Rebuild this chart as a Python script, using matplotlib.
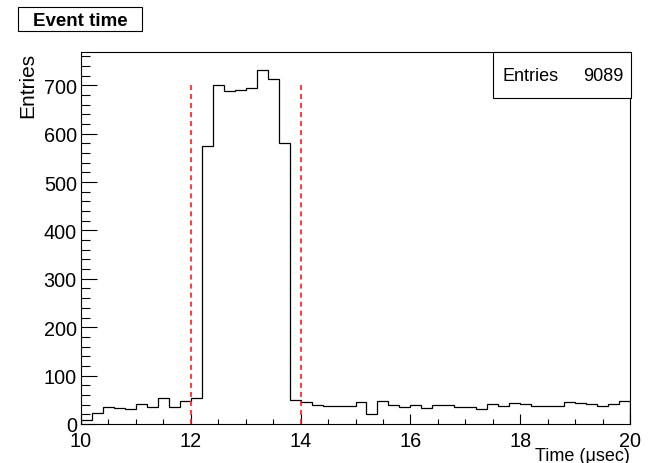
# event time histogram with the timing window marked
import numpy as np
import matplotlib
matplotlib.use('Agg')
import matplotlib.pyplot as plt
from matplotlib.patches import Rectangle
from matplotlib.ticker import MultipleLocator

plt.rcParams['font.family'] = ['Liberation Sans', 'DejaVu Sans']
plt.rcParams['lines.scale_dashes'] = False

# histogram: 50 bins between 10 and 20 usec
t_lo, t_hi, n_bins = 10.0, 20.0, 50
counts = [8, 22, 36, 34, 30, 41, 35, 53, 35, 47,
          54, 575, 700, 688, 690, 695, 732, 712, 580, 50,
          45, 40, 37, 37, 37, 45, 21, 47, 40, 35,
          39, 33, 39, 40, 35, 35, 30, 41, 37, 43,
          41, 38, 37, 38, 45, 43, 41, 37, 41, 47]
n_entries = 9089

# cut window
cut_times = [12.0, 14.0]
cut_height = 700

W, H = 656, 464
fig = plt.figure(figsize=(W / 100, H / 100), dpi=100)

def fx(px):
    return px / W

def fy(py):
    return 1 - py / H

ax = fig.add_axes([fx(81), fy(425), fx(630) - fx(81), fy(53) - fy(425)])

edges = np.linspace(t_lo, t_hi, n_bins + 1)
ax.stairs(counts, edges, color='black', linewidth=0.9)

for t in cut_times:
    ax.plot([t, t], [0, cut_height], color='#ff1a1a', linewidth=1.2,
            dashes=(3.6, 2.9), zorder=3)

ax.set_xlim(t_lo, t_hi)
ax.set_ylim(0, 1.05 * max(counts))

ax.xaxis.set_major_locator(MultipleLocator(2))
ax.xaxis.set_minor_locator(MultipleLocator(0.5))
ax.yaxis.set_major_locator(MultipleLocator(100))
ax.yaxis.set_minor_locator(MultipleLocator(20))

ax.tick_params(axis='x', which='major', direction='in', length=7.2, width=0.8,
               labelsize=14.3, pad=5)
ax.tick_params(axis='x', which='minor', direction='in', length=3.6, width=0.8)
ax.tick_params(axis='y', which='major', direction='in', length=11.5, width=0.8,
               labelsize=14.3, pad=3)
ax.tick_params(axis='y', which='minor', direction='in', length=6.5, width=0.8)
ax.tick_params(top=False, right=False, which='both')

for sp in ax.spines.values():
    sp.set_linewidth(0.8)

ax.set_ylabel('Entries', loc='top', fontsize=15, labelpad=5)
ax.set_xlabel('Time (\u03bcsec)', loc='right', fontsize=13, labelpad=-2)

# title box
fig.patches.append(Rectangle((fx(19), fy(33)), fx(124), fy(0) - fy(24),
                             transform=fig.transFigure, facecolor='black',
                             edgecolor='none', zorder=1))
fig.patches.append(Rectangle((fx(18), fy(32)), fx(124), fy(0) - fy(24),
                             transform=fig.transFigure, facecolor='white',
                             edgecolor='black', linewidth=0.8, zorder=2))
fig.text(fx(80), fy(21), 'Event time', ha='center', va='center',
         fontsize=13.5, fontweight='bold', zorder=3)

# statistics box
fig.patches.append(Rectangle((fx(494), fy(100)), fx(138), fy(0) - fy(46),
                             transform=fig.transFigure, facecolor='black',
                             edgecolor='none', zorder=4))
fig.patches.append(Rectangle((fx(493), fy(99)), fx(138), fy(0) - fy(46),
                             transform=fig.transFigure, facecolor='white',
                             edgecolor='black', linewidth=0.8, zorder=5))
fig.text(fx(502), fy(76.5), 'Entries', ha='left', va='center',
         fontsize=13, zorder=6)
fig.text(fx(624), fy(76.5), str(n_entries), ha='right', va='center',
         fontsize=13, zorder=6)

fig.savefig('out.png', dpi=100)
